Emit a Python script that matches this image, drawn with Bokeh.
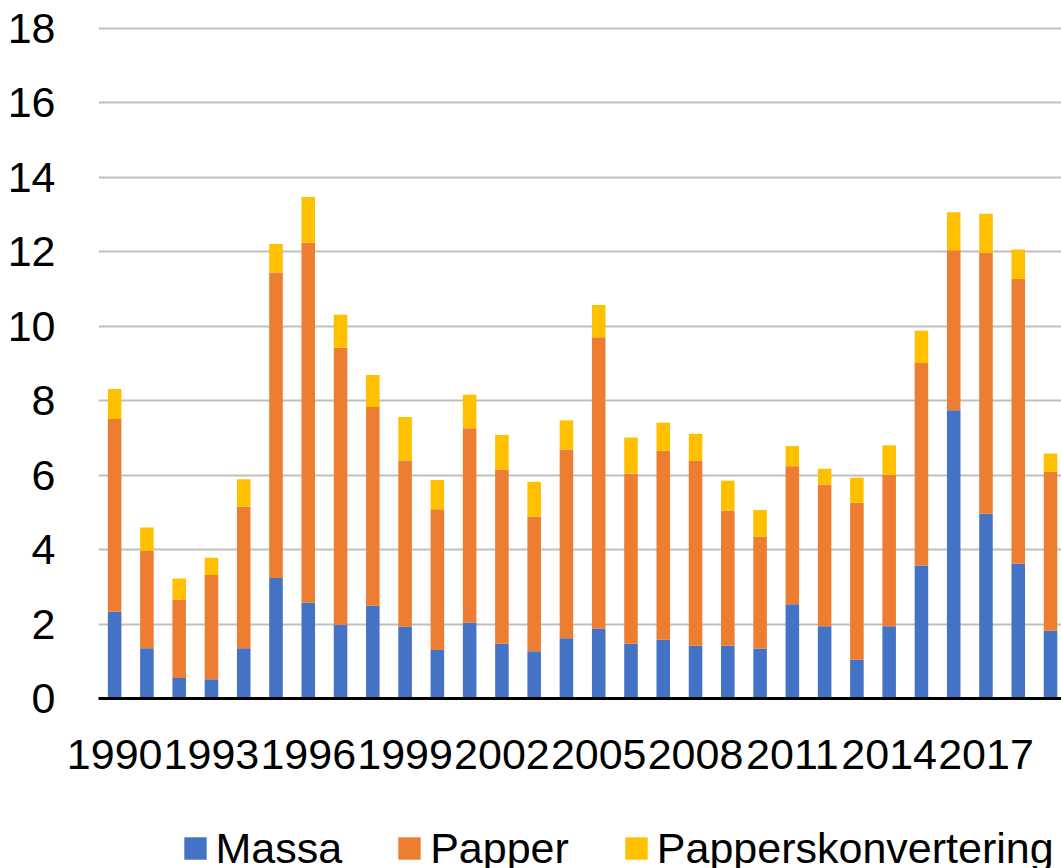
from bokeh.plotting import figure
from bokeh.layouts import column
from bokeh.models import ColumnDataSource, Range1d, FixedTicker, Legend, LegendItem
from bokeh.embed import file_html
from bokeh.resources import INLINE

years = list(range(1990, 2020))
massa = [2.33, 1.35, 0.55, 0.52, 1.35, 3.24, 2.57, 1.98, 2.49, 1.93,
         1.30, 2.04, 1.47, 1.27, 1.62, 1.88, 1.47, 1.58, 1.42, 1.42,
         1.34, 2.53, 1.94, 1.04, 1.94, 3.57, 7.74, 4.96, 3.62, 1.82]
papper = [5.18, 2.61, 2.11, 2.80, 3.80, 8.20, 9.68, 7.44, 5.34, 4.46,
          3.78, 5.22, 4.68, 3.62, 5.07, 7.82, 4.57, 5.08, 4.97, 3.63,
          3.01, 3.71, 3.81, 4.22, 4.07, 5.44, 4.30, 7.01, 7.65, 4.27]
konvertering = [0.80, 0.63, 0.56, 0.46, 0.74, 0.77, 1.22, 0.89, 0.86, 1.17,
                0.79, 0.90, 0.93, 0.93, 0.78, 0.87, 0.97, 0.75, 0.72, 0.80,
                0.71, 0.54, 0.42, 0.67, 0.79, 0.87, 1.02, 1.05, 0.79, 0.49]
series_names = ["Massa", "Papper", "Papperskonvertering"]
colors = ["#4472C4", "#ED7D31", "#FFC000"]
x_tick_years = [1990, 1993, 1996, 1999, 2002, 2005, 2008, 2011, 2014, 2017]
x_tick_labels = ["1990", "1993", "1996", "1999", "2002", "2005", "2008", "2011", "2014", "2017"]
y_ticks = [0, 2, 4, 6, 8, 10, 12, 14, 16, 18]

FONT = "Liberation Sans"
FS = "43px"
W = 1061
H_MAIN = 800
H_LEG = 68

source = ColumnDataSource(dict(year=years, Massa=massa, Papper=papper,
                               Papperskonvertering=konvertering))

p = figure(width=W, height=H_MAIN, output_backend="svg", toolbar_location=None,
           x_range=Range1d(1989.5, 2019.34), y_range=Range1d(0, 18.05),
           min_border_left=98, min_border_right=0, min_border_top=26,
           min_border_bottom=102)
p.outline_line_color = None
p.background_fill_color = "white"

renderers = p.vbar_stack(series_names, x="year", width=0.42, color=colors,
                         line_color=None, source=source)

p.xgrid.grid_line_color = None
p.ygrid.grid_line_color = "#BFBFBF"
p.ygrid.grid_line_width = 2
p.ygrid.ticker = FixedTicker(ticks=y_ticks)

p.yaxis.ticker = FixedTicker(ticks=y_ticks)
p.yaxis.axis_line_color = None
p.yaxis.major_tick_line_color = None
p.yaxis.minor_tick_line_color = None
p.yaxis.major_label_text_font = FONT
p.yaxis.major_label_text_font_size = FS
p.yaxis.major_label_text_color = "black"
p.yaxis.major_label_standoff = 37

p.xaxis.ticker = FixedTicker(ticks=x_tick_years)
p.xaxis.major_label_overrides = {y: l for y, l in zip(x_tick_years, x_tick_labels)}
p.xaxis.axis_line_color = "black"
p.xaxis.axis_line_width = 3
p.xaxis.major_tick_line_color = None
p.xaxis.minor_tick_line_color = None
p.xaxis.major_label_text_font = FONT
p.xaxis.major_label_text_font_size = FS
p.xaxis.major_label_text_color = "black"
p.xaxis.major_label_standoff = 35

# legend strip below the chart (its bars lie outside its visible range)
q = figure(width=W, height=H_LEG, output_backend="svg", toolbar_location=None,
           x_range=Range1d(0, 1), y_range=Range1d(0, 1),
           x_axis_location=None, y_axis_location=None,
           min_border=0, min_border_left=0, min_border_right=0,
           min_border_top=0, min_border_bottom=0)
q.outline_line_color = None
q.xgrid.visible = False
q.ygrid.visible = False
swatches = q.vbar_stack(series_names, x="year", width=0.42, color=colors,
                        line_color=None, source=source)
items = [LegendItem(label=n, renderers=[r]) for n, r in zip(series_names, swatches)]
legend = Legend(items=items, orientation="horizontal", location=(82.5, -4.5),
                glyph_width=28, glyph_height=28, label_standoff=7, spacing=53,
                padding=0, margin=0, border_line_color=None,
                background_fill_alpha=0, label_text_font=FONT,
                label_text_font_size=FS, label_text_color="black")
q.add_layout(legend, "center")

layout = column(p, q, spacing=0)
open("out.html", "w").write(file_html(layout, INLINE))
